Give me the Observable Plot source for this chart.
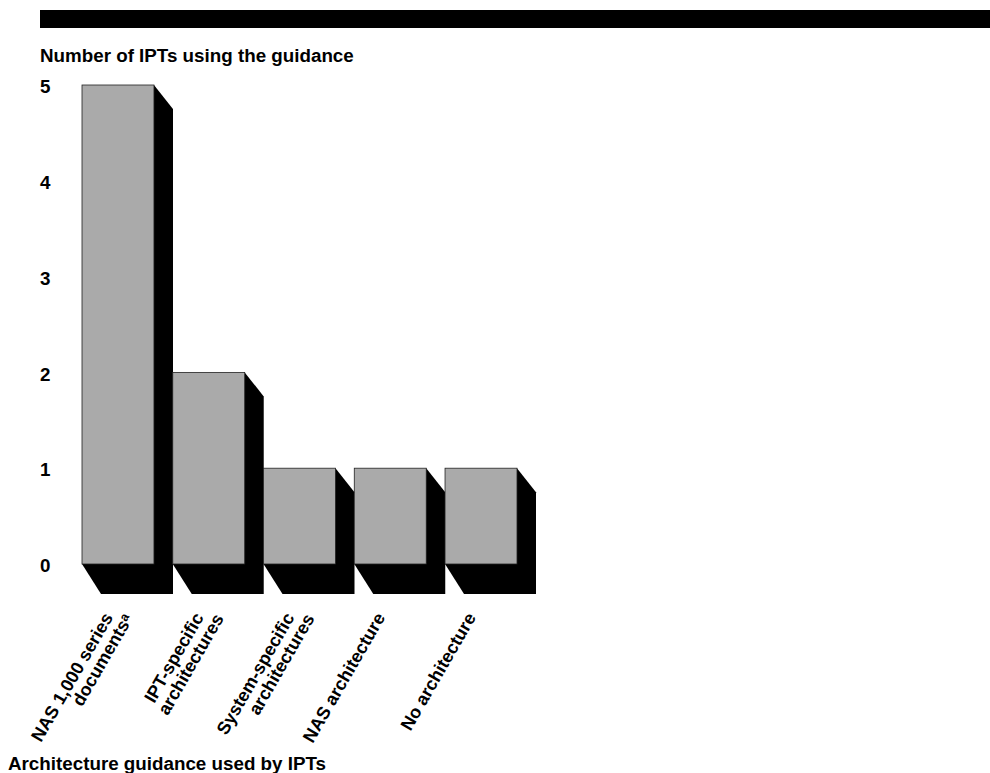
<!DOCTYPE html>
<html><head><meta charset="utf-8">
<script src="https://cdn.jsdelivr.net/npm/d3@7"></script>
<script src="https://cdn.jsdelivr.net/npm/@observablehq/plot@0.6"></script>
<style>
html,body{margin:0;padding:0;background:#fff;overflow:hidden;height:773px}
body{font-family:"Liberation Sans",Arial,sans-serif;font-weight:700;font-size:18.8px;color:#000}
#band{margin:10px 0 0 40px;height:18.33px;background:#000}
#ytitle{margin:20px 0 0 40px;line-height:16px;height:16px;white-space:nowrap}
#xtitle{margin:-2px 0 0 8px;line-height:16px;height:16px;white-space:nowrap}
svg{display:block}
</style></head><body>
<div id="band"></div>
<div id="ytitle">Number of IPTs using the guidance</div>
<div id="chart"></div>
<div id="xtitle">Architecture guidance used by IPTs</div>
<script>
const categories = ["NAS 1,000 series documents","IPT-specific architectures","System-specific architectures","NAS architecture","No architecture"];
const labelLine1 = ["NAS 1,000 series","IPT-specific","System-specific","NAS architecture","No architecture"];
const labelLine2 = ["documentsᵃ","architectures","architectures","",""];
const counts = [5,2,1,1,1];
const yTicks = [0,1,2,3,4,5];
const rows = categories.map((c,i)=>({c,v:counts[i],l1:labelLine1[i],l2:labelLine2[i]}));

function shadows(index, scales){
  const g = d3.create("svg:g");
  const bw = scales.x.bandwidth();
  for (const r of rows){
    const x0 = scales.x(r.c), x1 = x0+bw, y0 = scales.y(r.v), y1 = scales.y(0);
    g.append("path").attr("fill","#000")
      .attr("d",`M${x1},${y0}L${x1+19},${y0+24}V${y1+30}H${x0+19}L${x0},${y1}Z`);
  }
  return g.node();
}

const labelStyle = {x:"c",y:()=>0,rotate:-60,textAnchor:"end",lineAnchor:"middle",fontSize:18,fill:"#000"};

const chart = Plot.plot({
  width:990, height:694,
  marginTop:21, marginBottom:194, marginLeft:82, marginRight:473,
  style:{fontFamily:'"Liberation Sans",Arial,sans-serif',fontSize:"18.8px",fontWeight:700,color:"#000",background:"transparent"},
  x:{domain:categories,paddingInner:0.207,paddingOuter:0,round:false,label:null,axis:null},
  y:{domain:[0,5],label:null,axis:null},
  marks:[
    shadows,
    Plot.barY(rows,{x:"c",y:"v",fill:"#aaaaaa",stroke:"#222",strokeWidth:0.8}),
    Plot.axisY({ticks:yTicks,tickSize:0,tickPadding:32,dy:1.7,label:null,tickFormat:d3.format("d")}),
    Plot.text(rows,{...labelStyle,text:"l1",dx:-10,dy:50}),
    Plot.text(rows,{...labelStyle,text:"l2",dx:10,dy:51})
  ]
});
document.getElementById("chart").append(chart);
</script>
</body></html>
